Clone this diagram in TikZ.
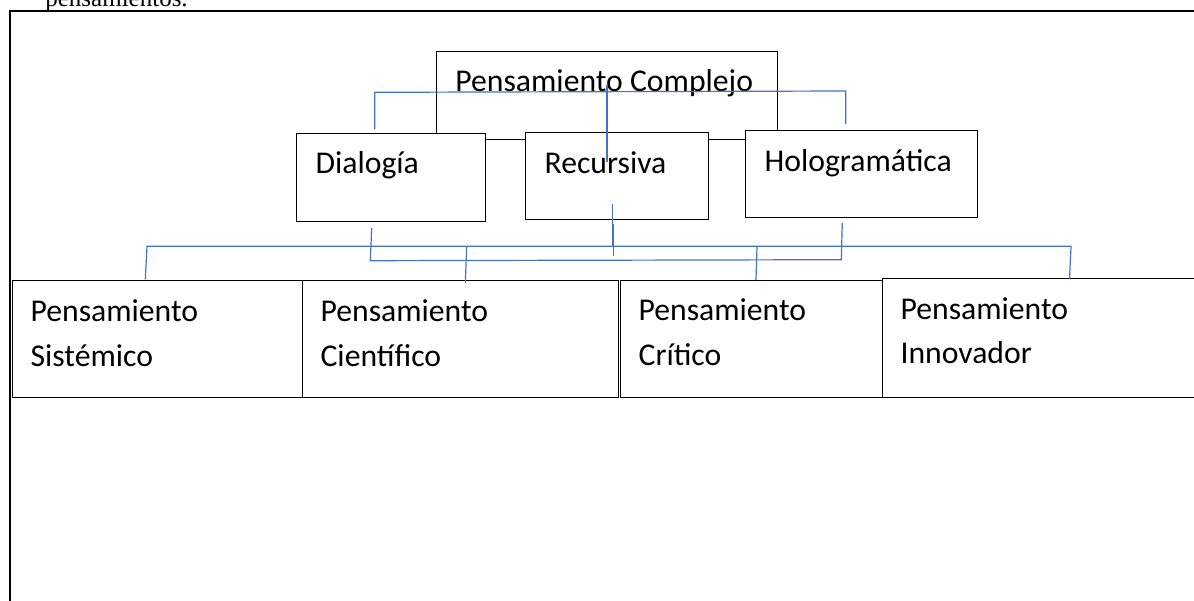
\documentclass[tikz,border=0pt]{standalone}
\usepackage{fontspec}
\newfontfamily\carlito{Carlito}
\newfontfamily\tiempos{Liberation Serif}
\definecolor{azulword}{HTML}{4472C4}
\tikzset{
    caja/.style={draw=black, line width=0.55pt, fill=white, anchor=north west, inner sep=0pt},
    rotulo/.style={anchor=base west, inner sep=0pt, align=left, font=\carlito\fontsize{15.85pt}{22.15pt}\selectfont},
    enlace/.style={azulword, line width=0.6pt},
}
\begin{document}
\begin{tikzpicture}[x=0.5pt, y=-0.5pt]
    \useasboundingbox (0,0) rectangle (1194,600);
    % marco de la tabla
    \draw[line width=1.15pt] (9.7,11.3) rectangle (1230,650);
    \node[anchor=base west, inner sep=0pt, font=\tiempos\fontsize{12.5pt}{14pt}\selectfont] (resto) at (45,6) {pensamientos.};
    % nivel superior
    \node[caja, minimum width=170.65pt, minimum height=44pt] (complejo) at (436,51) {};
    \node[rotulo] (tcomplejo) at (455,91.7) {Pensamiento Complejo};
    % principios
    \node[caja, minimum width=94.5pt, minimum height=43.6pt] (dialogia) at (296,133.3) {};
    \node[rotulo] (tdialogia) at (315.2,173.3) {Dialogía};
    \node[caja, minimum width=91.5pt, minimum height=43.65pt] (recursiva) at (524.7,131.7) {};
    \node[rotulo] (trecursiva) at (544.2,173) {Recursiva};
    \node[caja, minimum width=116pt, minimum height=43.35pt] (holo) at (745,130.3) {};
    \node[rotulo] (tholo) at (764.2,171.7) {Hologramática};
    % tipos de pensamiento (base = segunda linea)
    \node[caja, minimum width=145.15pt, minimum height=58.5pt] (sistemico) at (12,279.7) {};
    \node[rotulo] (tsistemico) at (30.2,366) {Pensamiento\\Sistémico};
    \node[caja, minimum width=157.6pt, minimum height=58.65pt] (cientifico) at (302.3,279.7) {};
    \node[rotulo] (tcientifico) at (320.2,366) {Pensamiento\\Científico};
    \node[caja, minimum width=130.85pt, minimum height=58.65pt] (critico) at (620,279.7) {};
    \node[rotulo] (tcritico) at (638.2,365) {Pensamiento\\Crítico};
    \node[caja, minimum width=170pt, minimum height=59.65pt] (innovador) at (881.7,277.7) {};
    \node[rotulo] (tinnovador) at (900.2,363.3) {Pensamiento\\Innovador};
    % conectores
    \coordinate (busizq) at (147,246.3);
    \coordinate (busder) at (1071,246.3);
    \draw[enlace] (374.7,129) -- (374.7,92.3) -- (845.7,91) -- (845.7,124);
    \draw[enlace] (607,85) -- (607,161.7);
    \draw[enlace] (612.3,204) -- (612.3,247);
    \draw[enlace] (613.7,224) -- (613.7,255.5);
    \draw[enlace] (145.3,279.3) -- (busizq) -- (busder) -- (1069.5,279);
    \draw[enlace] (466.7,246.3) -- (465.3,282.7);
    \draw[enlace] (757,246.3) -- (756,280);
    \draw[enlace] (371.7,228) -- (370.3,260.7) -- (841.3,259.7) -- (842.3,223);
\end{tikzpicture}
\end{document}
